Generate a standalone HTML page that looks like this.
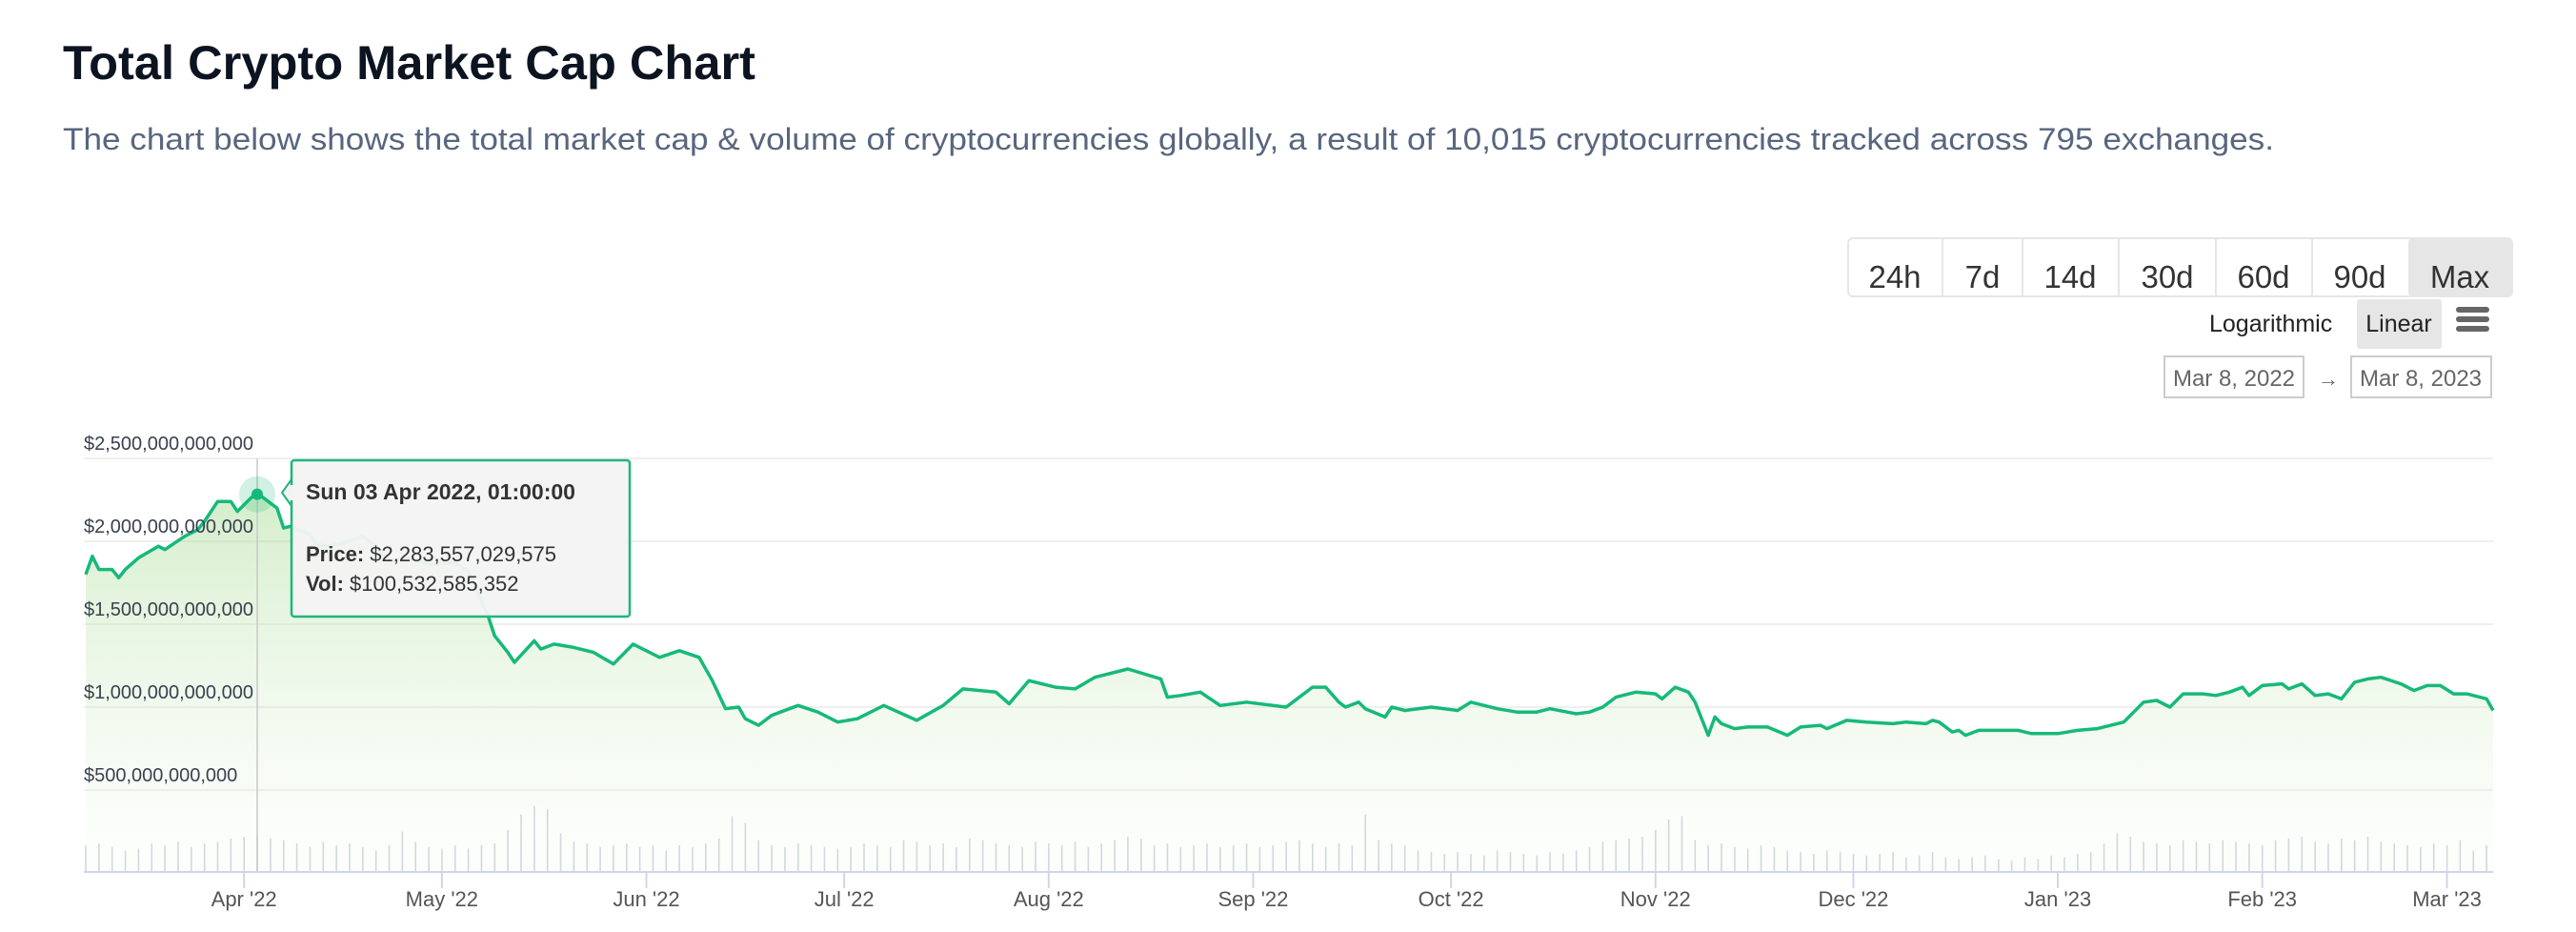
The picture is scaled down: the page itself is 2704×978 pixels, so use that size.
<!DOCTYPE html>
<html><head><meta charset="utf-8"><title>Total Crypto Market Cap Chart</title>
<style>
html,body{margin:0;padding:0;background:#fff;}
svg{display:block;font-family:"Liberation Sans",Arial,sans-serif;}
</style></head>
<body>
<svg id="chart" width="2704" height="978" viewBox="0 0 2704 978" xmlns="http://www.w3.org/2000/svg">
<defs>
<linearGradient id="areaGrad" x1="0" y1="0" x2="0" y2="1">
<stop offset="0" stop-color="#9fd88a" stop-opacity="0.45"/>
<stop offset="1" stop-color="#e8f5e0" stop-opacity="0.1"/>
</linearGradient>
</defs>
<text x="66" y="83" font-size="50" font-weight="bold" fill="#0d1421" textLength="727" lengthAdjust="spacingAndGlyphs">Total Crypto Market Cap Chart</text>
<text x="66" y="157" font-size="32" fill="#58667e" textLength="2321" lengthAdjust="spacingAndGlyphs">The chart below shows the total market cap &amp; volume of cryptocurrencies globally, a result of 10,015 cryptocurrencies tracked across 795 exchanges.</text>

<g>
<rect x="1940" y="250" width="697" height="61" rx="5" fill="#fff" stroke="#e6e6e6" stroke-width="2"/>
<rect x="2528" y="250" width="109" height="61" rx="4" fill="#e6e6e6"/>
<g font-size="33" fill="#333" text-anchor="middle">
<text x="1989" y="302">24h</text>
<text x="2081" y="302">7d</text>
<text x="2173" y="302">14d</text>
<text x="2275" y="302">30d</text>
<text x="2376" y="302">60d</text>
<text x="2477" y="302">90d</text>
<text x="2582" y="302">Max</text>
</g>
<g stroke="#e6e6e6" stroke-width="2">
<line x1="2039" y1="251" x2="2039" y2="310"/><line x1="2123" y1="251" x2="2123" y2="310"/>
<line x1="2224" y1="251" x2="2224" y2="310"/><line x1="2326" y1="251" x2="2326" y2="310"/>
<line x1="2427" y1="251" x2="2427" y2="310"/>
</g>
</g>
<text x="2319" y="348" font-size="25" fill="#222">Logarithmic</text>
<rect x="2474" y="314" width="89" height="52" rx="3" fill="#e6e6e6"/>
<text x="2518" y="348" font-size="25" fill="#222" text-anchor="middle">Linear</text>
<g fill="#666">
<rect x="2578" y="322" width="35" height="6" rx="3"/><rect x="2578" y="332" width="35" height="6" rx="3"/><rect x="2578" y="342" width="35" height="6" rx="3"/>
</g>
<rect x="2272" y="374" width="146" height="43" fill="#fff" stroke="#ccc" stroke-width="2"/>
<text x="2345" y="405" font-size="24" fill="#666" text-anchor="middle">Mar 8, 2022</text>
<text x="2444" y="405" font-size="22" fill="#666" text-anchor="middle">→</text>
<rect x="2468" y="374" width="147" height="43" fill="#fff" stroke="#ccc" stroke-width="2"/>
<text x="2541" y="405" font-size="24" fill="#666" text-anchor="middle">Mar 8, 2023</text>

<g id="grid"></g>
<g id="vol"></g>
<g id="area"></g>
<g id="xaxis"></g>
<g id="yaxis"></g>
<g id="hover"></g>

<g>
<path d="M306 503 L296 517 L306 531" fill="#f3f3f3" stroke="#1fb67c" stroke-width="2"/>
<rect x="306" y="483" width="355" height="164" rx="3" fill="#f3f3f3" fill-opacity="0.95" stroke="#1fb67c" stroke-width="2.5"/>
<rect x="303" y="509" width="6" height="16" fill="#f3f3f3"/>
<text x="321" y="524" font-size="23" font-weight="bold" fill="#333">Sun 03 Apr 2022, 01:00:00</text>
<text x="321" y="589" font-size="22" fill="#333"><tspan font-weight="bold">Price:</tspan> $2,283,557,029,575</text>
<text x="321" y="620" font-size="22" fill="#333"><tspan font-weight="bold">Vol:</tspan> $100,532,585,352</text>
</g>
</svg>
<script>
const priceDays=[0,1,2,4,5,6,8,11,12,15,17,18,20,22,23,25,26,29,30,31,34,35,37,40,42,44,46,49,52,56,58,61,62,64,65,68,69,71,74,77,80,83,87,90,93,95,97,99,100,102,104,108,111,114,117,121,126,130,133,138,140,143,147,150,153,158,163,164,166,169,172,176,182,183,186,188,190,191,193,194,197,198,200,204,208,210,214,217,220,222,226,228,230,232,235,238,239,241,243,244,246,247,248,250,252,255,258,260,263,264,267,270,274,276,279,280,281,283,284,285,287,293,295,299,302,305,309,312,314,316,318,321,323,325,327,328,330,333,334,336,338,340,342,344,346,348,351,353,355,357,359,361,364,365];
const priceValues=[1.80,1.91,1.83,1.83,1.78,1.83,1.90,1.97,1.95,2.03,2.07,2.12,2.24,2.24,2.18,2.26,2.29,2.20,2.08,2.09,2.04,1.98,1.97,2.0,2.03,1.97,1.88,1.90,1.86,1.87,1.82,1.55,1.43,1.33,1.27,1.40,1.35,1.38,1.36,1.33,1.26,1.38,1.30,1.34,1.30,1.16,0.99,1.0,0.93,0.89,0.95,1.01,0.97,0.91,0.93,1.01,0.92,1.01,1.11,1.09,1.02,1.16,1.12,1.11,1.18,1.23,1.17,1.06,1.07,1.09,1.01,1.03,1.0,1.03,1.12,1.12,1.03,1.0,1.03,0.99,0.94,1.0,0.98,1.0,0.98,1.03,0.99,0.97,0.97,0.99,0.96,0.97,1.0,1.06,1.09,1.08,1.05,1.12,1.09,1.03,0.83,0.94,0.90,0.87,0.88,0.88,0.83,0.88,0.89,0.87,0.92,0.91,0.90,0.91,0.90,0.92,0.91,0.85,0.86,0.83,0.86,0.86,0.84,0.84,0.86,0.87,0.91,1.03,1.04,1.0,1.08,1.08,1.07,1.09,1.12,1.07,1.13,1.14,1.11,1.14,1.07,1.08,1.05,1.15,1.17,1.18,1.14,1.10,1.13,1.13,1.08,1.08,1.05,0.98];
const volValues=[75,80,70,60,65,80,75,85,70,80,85,95,100,
105,95,90,80,70,85,75,80,70,60,75,115,85,70,65,
75,65,75,80,120,165,190,180,110,85,80,70,75,80,70,
75,60,75,70,80,95,160,140,90,75,70,80,75,70,65,
70,80,75,70,90,85,75,80,70,95,90,80,75,70,85,
80,75,85,70,80,90,100,95,75,80,70,75,80,70,75,
80,70,75,85,90,80,70,80,75,165,90,80,75,60,55,
50,55,50,45,60,55,50,45,55,50,60,70,85,90,95,
100,120,150,160,90,75,80,70,65,75,70,60,55,50,60,
55,50,45,50,55,40,45,55,40,35,40,45,35,30,40,
35,45,40,50,55,80,110,100,85,80,75,90,85,80,90,
85,80,75,90,95,100,85,80,95,90,100,85,80,75,70,
80,75,90,60,75];
const volStepDays=2;
const yTicks=[0.5,1.0,1.5,2.0,2.5];
const yTickLabels=["$500,000,000,000","$1,000,000,000,000","$1,500,000,000,000","$2,000,000,000,000","$2,500,000,000,000"];
const xTickDays=[24,54,85,115,146,177,207,238,268,299,330,358];
const xTickLabels=["Apr '22","May '22","Jun '22","Jul '22","Aug '22","Sep '22","Oct '22","Nov '22","Dec '22","Jan '23","Feb '23","Mar '23"];
const hoverDay=26, hoverValue=2.2836;

const NS="http://www.w3.org/2000/svg";
const X0=90, X1=2617, DAYS=365, Y0=916, PXT=174, BASE=914, VPX=0.36;
const xs=d=>X0+(d/DAYS)*(X1-X0);
const ys=v=>Y0-v*PXT;
const vs=v=>v*VPX;
function mk(tag,attrs,parent){const e=document.createElementNS(NS,tag);for(const k in attrs)e.setAttribute(k,attrs[k]);parent.appendChild(e);return e;}
const grid=document.getElementById('grid'),yaxis=document.getElementById('yaxis'),xaxis=document.getElementById('xaxis'),vol=document.getElementById('vol'),area=document.getElementById('area'),hover=document.getElementById('hover');
yTicks.forEach((t,i)=>{
  const l=mk('line',{x1:X0-2,x2:X1,y1:ys(t),y2:ys(t),stroke:'#efefef','stroke-width':2},grid);
  
  
  const tx=mk('text',{x:X0-2,y:ys(t)-9,'font-size':20,fill:'#3a4150'},yaxis);
  tx.textContent=yTickLabels[i];
  
  
});
volValues.forEach((v,i)=>{
  const x=xs(i*volStepDays);
  const b=mk('rect',{x:x-0.75,y:BASE-vs(v),width:1.6,height:vs(v),fill:'#cfd4de'},vol);
  
  
});
let d='';
priceDays.forEach((dd,i)=>{d+=(i?'L':'M')+xs(dd).toFixed(1)+' '+ys(priceValues[i]).toFixed(1)+' ';});
const fillPath=mk('path',{d:d+'L'+xs(priceDays[priceDays.length-1])+' '+BASE+' L'+xs(priceDays[0])+' '+BASE+' Z',fill:'url(#areaGrad)'},area);


const line=mk('path',{d:d,fill:'none',stroke:'#16b979','stroke-width':3.5,'stroke-linejoin':'round'},area);


const axis=mk('line',{x1:X0-2,x2:X1,y1:BASE+1,y2:BASE+1,stroke:'#ccd6eb','stroke-width':2},xaxis);


xTickDays.forEach((t,i)=>{
  const tk=mk('line',{x1:xs(t),x2:xs(t),y1:BASE,y2:BASE+18,stroke:'#ccd6eb','stroke-width':2},xaxis);
  
  
  const tx=mk('text',{x:xs(t),y:951,'font-size':22,fill:'#555','text-anchor':'middle'},xaxis);
  tx.textContent=xTickLabels[i];
  
  
});
const ch=mk('line',{x1:xs(hoverDay),x2:xs(hoverDay),y1:481,y2:BASE,stroke:'#c8c8c8','stroke-width':1.5},hover);


const halo=mk('circle',{cx:xs(hoverDay),cy:ys(hoverValue),r:19,fill:'#16b979','fill-opacity':0.2},hover);


const pt=mk('circle',{cx:xs(hoverDay),cy:ys(hoverValue),r:6,fill:'#16b979'},hover);


</script>
</body></html>
